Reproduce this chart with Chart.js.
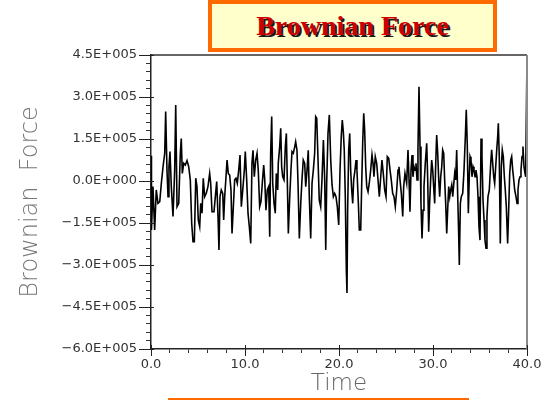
<!DOCTYPE html>
<html>
<head>
<meta charset="utf-8">
<script src="https://cdn.jsdelivr.net/npm/chart.js@4/dist/chart.umd.min.js"></script>
<style>
  html, body { margin: 0; padding: 0; background: #ffffff; overflow: hidden; }
  #wrap { position: relative; width: 551px; height: 401px; }
  #c { position: absolute; left: 0; top: 0; }
  #tbox {
    position: absolute; left: 208px; top: 0px; width: 281px; height: 44px;
    background: #FFFFCC; border: 4px solid #FF6A00;
    font-family: "Liberation Serif", "Times New Roman", serif; font-weight: bold;
    font-size: 28px; color: #CC0000; text-align: center; line-height: 44px;
    text-shadow: 2px 2px 0 #1a1a1a;
  }
  #uline { position: absolute; left: 168px; top: 398px; width: 301px; height: 2px; background: #FF6A00; }
</style>
</head>
<body>
<div id="wrap">
  <canvas id="c" width="551" height="401"></canvas>
  <div id="tbox">Brownian Force</div>
  <div id="uline"></div>
</div>
<script>
// ---- data (force in units of 1E+005) ----
const timeValues = [
  0.00,0.05,0.21,0.39,0.56,0.74,0.93,1.10,1.28,1.46,1.56,1.70,1.81,1.91,2.02,2.16,2.34,2.52,2.63,2.77,
  2.95,3.12,3.22,3.33,3.48,3.65,3.83,4.01,4.18,4.33,4.47,4.61,4.76,4.89,5.03,5.18,5.29,5.43,5.56,5.71,
  5.88,6.06,6.24,6.35,6.49,6.70,6.99,7.13,7.23,7.34,7.48,7.63,7.73,7.84,7.98,8.09,8.22,8.37,8.51,8.62,
  8.76,8.90,9.04,9.18,9.33,9.47,9.61,9.76,9.93,10.03,10.18,10.32,10.46,10.61,10.74,10.85,10.99,11.14,11.28,11.41,
  11.56,11.70,11.84,11.99,12.10,12.23,12.37,12.52,12.63,12.73,12.84,12.95,13.09,13.22,13.33,13.48,13.54,13.69,13.80,13.90,
  14.01,14.15,14.29,14.40,14.50,14.61,14.76,14.89,15.00,15.14,15.29,15.39,15.53,15.64,15.78,15.93,16.06,16.20,16.35,16.46,
  16.60,16.73,16.84,16.99,17.13,17.27,17.41,17.52,17.63,17.77,17.90,18.05,18.19,18.34,18.48,18.59,18.69,18.83,18.97,19.12,
  19.26,19.40,19.54,19.68,19.82,19.97,20.11,20.24,20.35,20.46,20.56,20.67,20.78,20.85,20.92,21.03,21.14,21.24,21.35,21.46,
  21.56,21.70,21.81,21.91,22.06,22.16,22.31,22.41,22.52,22.63,22.73,22.84,22.95,23.09,23.22,23.37,23.51,23.62,23.72,23.86,
  24.01,24.15,24.29,24.44,24.57,24.71,24.86,25.00,25.14,25.29,25.43,25.56,25.71,25.85,25.99,26.14,26.28,26.38,26.49,26.63,
  26.78,26.88,27.02,27.20,27.34,27.45,27.55,27.66,27.77,27.87,27.98,28.09,28.19,28.30,28.40,28.51,28.62,28.72,28.83,28.94,
  29.04,29.18,29.33,29.43,29.54,29.64,29.75,29.86,29.97,30.07,30.18,30.29,30.39,30.50,30.61,30.71,30.82,30.93,31.03,31.14,
  31.24,31.35,31.46,31.56,31.67,31.78,31.88,31.99,32.10,32.20,32.31,32.41,32.52,32.63,32.73,32.80,32.91,33.01,33.16,33.30,
  33.44,33.54,33.65,33.76,33.86,33.94,34.04,34.15,34.26,34.36,34.47,34.57,34.68,34.79,34.89,35.00,35.11,35.21,35.32,35.43,
  35.53,35.64,35.74,35.85,35.99,36.14,36.24,36.35,36.46,36.56,36.67,36.78,36.88,36.95,37.05,37.16,37.27,37.37,37.48,37.59,
  37.69,37.80,37.94,38.05,38.16,38.27,38.37,38.48,38.59,38.69,38.83,38.94,39.04,39.15,39.26,39.36,39.47,39.57,39.68,39.79,
  39.86,40.00
];
const forceE5 = [
  0.9,-1.75,-0.2,-1.75,-0.32,-0.8,-0.74,-0.08,0.51,0.99,2.48,0.39,-0.56,0.51,1.05,-0.2,-1.27,0.39,2.71,-0.92,
  -0.8,0.99,1.52,0.27,0.63,0.57,0.73,0.51,0.04,-1.51,-2.17,-2.17,0.1,-0.2,-1.39,-1.63,-0.8,-1.15,0.1,-0.56,
  -0.44,-0.2,0.27,-0.08,-1.1,-1.1,-0.02,-1.27,-2.46,-0.56,-0.32,-0.44,-1.39,-0.56,0.15,0.75,0.27,0.21,-0.32,-1.87,
  -0.92,0.04,0.1,-0.08,0.39,0.93,-0.92,-0.32,0.39,1.05,0.04,-1.15,-1.63,-2.23,0.63,1.1,0.15,0.75,0.99,0.39,
  -0.92,-0.74,-0.08,0.57,0.04,-1.04,-0.32,-0.2,-1.99,0.99,2.3,-0.08,-0.8,-1.15,0.27,-0.32,0.63,1.22,1.88,0.51,
  0.15,0.04,1.22,1.7,0.04,-1.87,-0.56,0.39,1.05,0.99,1.22,1.4,1.1,-0.08,-2.05,-0.8,0.04,0.75,0.63,-0.2,
  0.39,1.1,-0.56,-2.05,-0.08,0.39,0.99,2.3,2.24,0.75,-0.68,-0.92,0.04,1.46,0.04,-2.46,-0.08,1.7,2.36,0.75,
  -0.14,-0.56,-0.44,-0.56,-0.92,-1.57,0.39,1.58,2.18,1.76,1.1,-0.56,-3.18,-4.0,-1.04,1.1,1.7,0.39,-0.32,-0.8,
  0.04,0.39,0.75,0.39,-0.8,-1.75,-1.75,-0.2,1.35,2.42,1.82,0.51,-0.2,-0.38,-0.08,0.39,0.93,0.63,0.15,0.87,
  0.63,0.04,-0.56,0.15,0.75,0.27,-0.32,-0.56,0.87,0.81,0.39,0.04,-0.44,-0.56,-0.92,-0.32,0.39,0.51,0.04,-0.44,
  -1.27,-0.2,0.27,-0.08,1.11,0.04,-1.1,0.39,0.93,0.15,0.51,0.39,0.63,0.04,1.11,3.37,1.23,-0.8,-2.05,-1.04,
  -0.2,0.63,1.35,0.15,-1.81,-0.8,0.04,0.75,0.39,-0.2,-0.8,0.63,1.64,0.99,0.04,-0.56,0.15,0.51,1.11,0.99,
  0.04,-0.8,-1.87,-1.04,-0.2,-0.56,-0.32,-0.14,-0.56,-0.14,0.27,0.04,1.11,-0.56,-1.87,-3.0,-0.8,-0.56,-0.44,0.39,
  1.58,2.54,1.23,-1.15,0.15,0.87,0.75,0.15,0.51,0.39,0.15,0.39,0.15,-0.56,-1.63,-2.11,1.52,0.87,-0.68,-1.39,
  -2.11,-2.4,-1.27,-0.56,-0.32,0.63,1.11,0.63,0.15,-0.08,0.51,1.11,1.58,2.06,0.87,-2.23,0.51,1.11,0.87,0.15,
  -0.32,-0.92,-2.23,-1.04,0.27,0.75,0.87,0.39,0.04,-0.32,-0.56,-0.8,-0.32,0.04,0.15,0.39,0.87,1.23,0.51,0.27,
  0.15,4.4
];
const yTickValues = [4.5, 3.0, 1.5, 0.0, -1.5, -3.0, -4.5, -6.0];
const yTickLabels = ["4.5E+005","3.0E+005","1.5E+005","0.0E+000","\u22121.5E+005","\u22123.0E+005","\u22124.5E+005","\u22126.0E+005"];
const xTickValues = [0, 10, 20, 30, 40];
const xTickLabels = ["0.0","10.0","20.0","30.0","40.0"];

const points = timeValues.map((t, i) => ({ x: t, y: forceE5[i] }));

function labelFor(vals, labels, v) {
  for (let i = 0; i < vals.length; i++) if (Math.abs(vals[i] - v) < 1e-6) return labels[i];
  return '';
}

const framePlugin = {
  id: 'frame',
  afterDraw(chart) {
    const { ctx, chartArea: { left, top, right, bottom }, scales: { x, y } } = chart;
    ctx.save();
    ctx.strokeStyle = '#333'; ctx.lineWidth = 1.5;
    ctx.beginPath(); ctx.moveTo(left, top); ctx.lineTo(right, top); ctx.stroke();
    ctx.strokeStyle = '#8a8a8a'; ctx.lineWidth = 2;
    ctx.beginPath(); ctx.moveTo(right, top); ctx.lineTo(right, bottom); ctx.stroke();
    ctx.strokeStyle = '#222'; ctx.lineWidth = 1;
    yTickValues.forEach(v => {
      const py = Math.round(y.getPixelForValue(v)) + 0.5;
      ctx.beginPath(); ctx.moveTo(left - 12, py); ctx.lineTo(left + 3, py); ctx.stroke();
    });
    xTickValues.forEach(v => {
      const px = Math.round(x.getPixelForValue(v)) + 0.5;
      ctx.beginPath(); ctx.moveTo(px, bottom - 4); ctx.lineTo(px, bottom + 7); ctx.stroke();
    });
    ctx.restore();
  }
};

new Chart(document.getElementById('c'), {
  type: 'line',
  data: {
    datasets: [{
      data: points,
      borderColor: '#000000',
      borderWidth: 1.6,
      pointRadius: 0,
      tension: 0,
      fill: false
    }]
  },
  options: {
    responsive: false,
    animation: false,
    layout: { padding: { left: 0, top: 55, right: 24, bottom: 0 } },
    plugins: { legend: { display: false }, tooltip: { enabled: false } },
    scales: {
      x: {
        type: 'linear', min: 0, max: 40,
        afterFit: s => { s.height = 52; },
        ticks: {
          stepSize: 2, autoSkip: false, maxRotation: 0, padding: 4,
          color: '#333', font: { family: '"DejaVu Sans", sans-serif', size: 13 },
          callback: v => labelFor(xTickValues, xTickLabels, v)
        },
        grid: { display: true, drawOnChartArea: false, drawTicks: true, tickLength: 4, tickColor: '#333' },
        border: { display: true, color: '#222', width: 1.5 },
        title: { display: true, text: 'Time', color: '#666',
                 font: { family: '"DejaVu Sans", sans-serif', size: 23, weight: '200' },
                 padding: { top: 0, bottom: 3 } }
      },
      y: {
        type: 'linear', min: -6, max: 4.5,
        afterFit: s => { s.width = 151; },
        ticks: {
          stepSize: 0.3, autoSkip: false, padding: 9,
          color: '#333', font: { family: '"DejaVu Sans", sans-serif', size: 13 },
          callback: v => labelFor(yTickValues, yTickLabels, v)
        },
        grid: { display: true, drawOnChartArea: false, drawTicks: true, tickLength: 5, tickColor: '#333' },
        border: { display: true, color: '#222', width: 1.5 },
        title: { display: true, text: 'Brownian  Force', color: '#777',
                 font: { family: '"DejaVu Sans", sans-serif', size: 24, weight: '200' },
                 padding: { top: 16, bottom: 0 } }
      }
    }
  },
  plugins: [framePlugin]
});
</script>
</body>
</html>
